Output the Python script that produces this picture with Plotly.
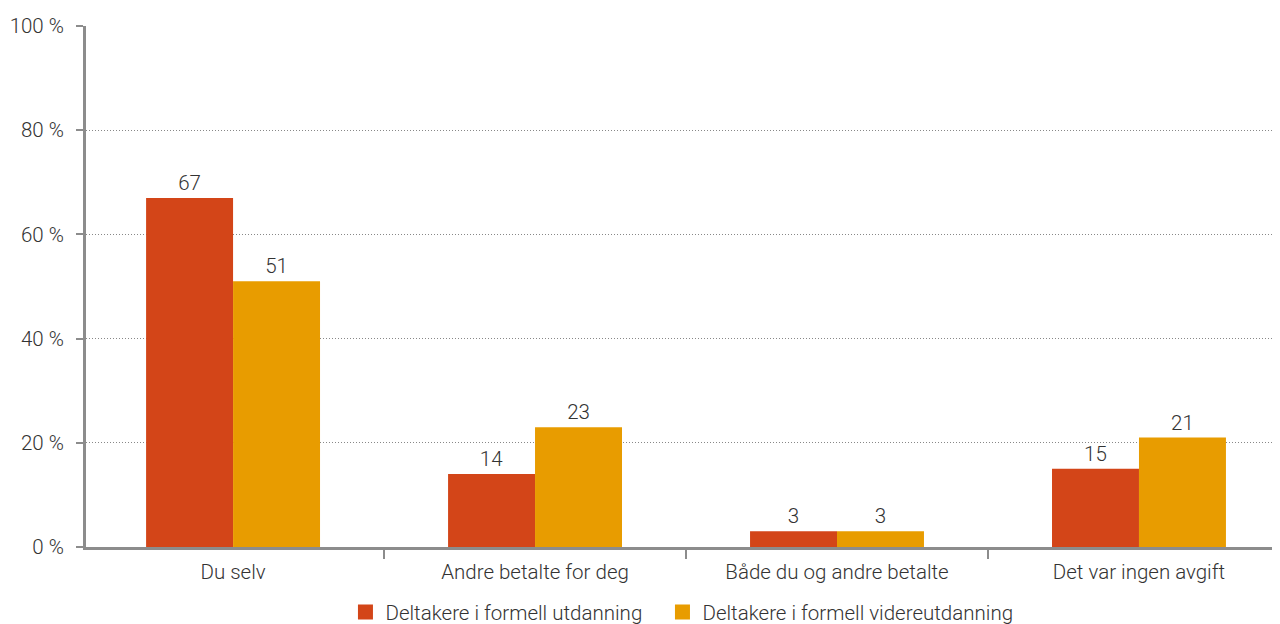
import plotly.graph_objects as go

categories = ["Du selv", "Andre betalte for deg", "Både du og andre betalte", "Det var ingen avgift"]
series_names = ["Deltakere i formell utdanning", "Deltakere i formell videreutdanning"]
formell = [67, 14, 3, 15]
videre = [51, 23, 3, 21]
y_ticks = [0, 20, 40, 60, 80, 100]
y_tick_labels = ["0 %", "20 %", "40 %", "60 %", "80 %", "100 %"]
colors = ["#D34518", "#E89C00"]

font = dict(family="Roboto", size=20.5, color="#333333", weight=300)

fig = go.Figure()
for name, vals, c in zip(series_names, [formell, videre], colors):
    fig.add_trace(go.Bar(
        x=categories, y=vals, name=name, marker=dict(color=c, line=dict(width=0)),
        text=[str(v) for v in vals], textposition="outside", textfont=font,
        cliponaxis=False, showlegend=False,
    ))
# legend entries with larger square swatches, one legend per entry
legend_ids = ["legend", "legend2"]
for name, c, lid in zip(series_names, colors, legend_ids):
    fig.add_trace(go.Scatter(
        x=[None], y=[None], mode="markers", name=name,
        marker=dict(symbol="square", size=15, color=c, line=dict(width=0)),
        showlegend=True, legend=lid,
    ))

legend_style = dict(orientation="h", y=-0.125, yanchor="middle", xanchor="left",
                    font=font, itemwidth=30, bgcolor="rgba(0,0,0,0)")

fig.update_layout(
    width=1272, height=616,
    barmode="group", bargap=0.424, bargroupgap=0,
    plot_bgcolor="white", paper_bgcolor="white",
    margin=dict(l=78, r=0, t=18, b=77, autoexpand=False),
    font=font,
    showlegend=True,
    legend=dict(x=0.2173, **legend_style),
    legend2=dict(x=0.4828, **legend_style),
    xaxis=dict(range=[-0.487, 3.467], showline=True, linecolor="#8c8c8c", linewidth=3,
               ticks="outside", tickson="boundaries", ticklen=9, tickwidth=2,
               tickcolor="#8c8c8c", tickfont=font, showgrid=False, automargin=False,
               ticklabelstandoff=4),
    yaxis=dict(range=[0, 100], tickvals=y_ticks, ticktext=y_tick_labels,
               showline=True, linecolor="#8c8c8c", linewidth=3, ticks="outside",
               ticklen=7, tickwidth=2, tickcolor="#8c8c8c", tickfont=font,
               showgrid=True, gridcolor="#888888", griddash="1px,2px", gridwidth=1,
               zeroline=False, automargin=False, ticklabelstandoff=8),
)

fig.write_html("out.html")
